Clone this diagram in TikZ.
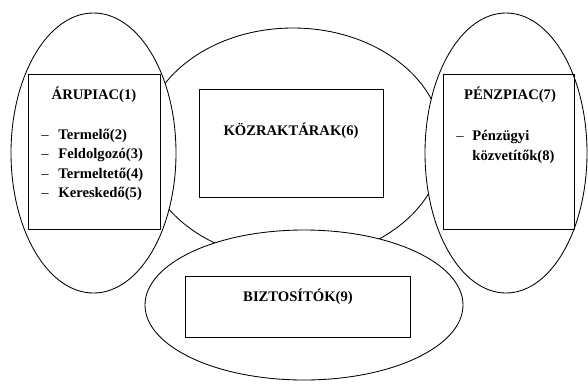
\documentclass[tikz,border=0pt]{standalone}
\usepackage{fontspec}
\setmainfont{Liberation Serif}
\begin{document}
\begin{tikzpicture}[x=0.82pt, y=-0.82pt, line width=0.7pt, line join=round,
  font=\bfseries\fontsize{12}{14}\selectfont,
  txt/.style={inner sep=0pt}, box/.style={line width=0.75pt}]
\useasboundingbox (0,0) rectangle (588,383);
% ellipszisek
\draw[fill=white] (293,144) ellipse [x radius=150, y radius=116];
\draw[fill=white] (93.5,153) ellipse [x radius=82.5, y radius=140];
\draw[fill=white] (506,153) ellipse [x radius=81, y radius=140];
\draw[fill=white] (304,305) ellipse [x radius=159, y radius=75];
% dobozok
\draw[box] (28,74) rectangle (160,229) (443,74) rectangle (574,229)
  (199,89) rectangle (383,197) (185,276) rectangle (410,337);
% szovegek
\node[txt, anchor=base] (aru) at (94,99.5) {ÁRUPIAC(1)};
\foreach \t [count=\i] in {Termelő(2),Feldolgozó(3),Termeltető(4),Kereskedő(5)}{
  \node[txt, anchor=base] (d\i) at (45,{119.5+19.5*\i}) {\mdseries --};
  \node[txt, anchor=base west] (a\i) at (58,{119.5+19.5*\i}) {\t};
}
\node[txt, anchor=base] (penz) at (510,99) {PÉNZPIAC(7)};
\node[txt, anchor=base] (dp) at (460,140) {\mdseries --};
\node[txt, anchor=base west] (p1) at (472,140) {Pénzügyi};
\node[txt, anchor=base west] (p2) at (472,160) {közvetítők(8)};
\node[txt, anchor=base] (koz) at (291,135) {KÖZRAKTÁRAK(6)};
\node[txt, anchor=base] (bizt) at (298,301) {BIZTOSÍTÓK(9)};
\end{tikzpicture}
\end{document}
